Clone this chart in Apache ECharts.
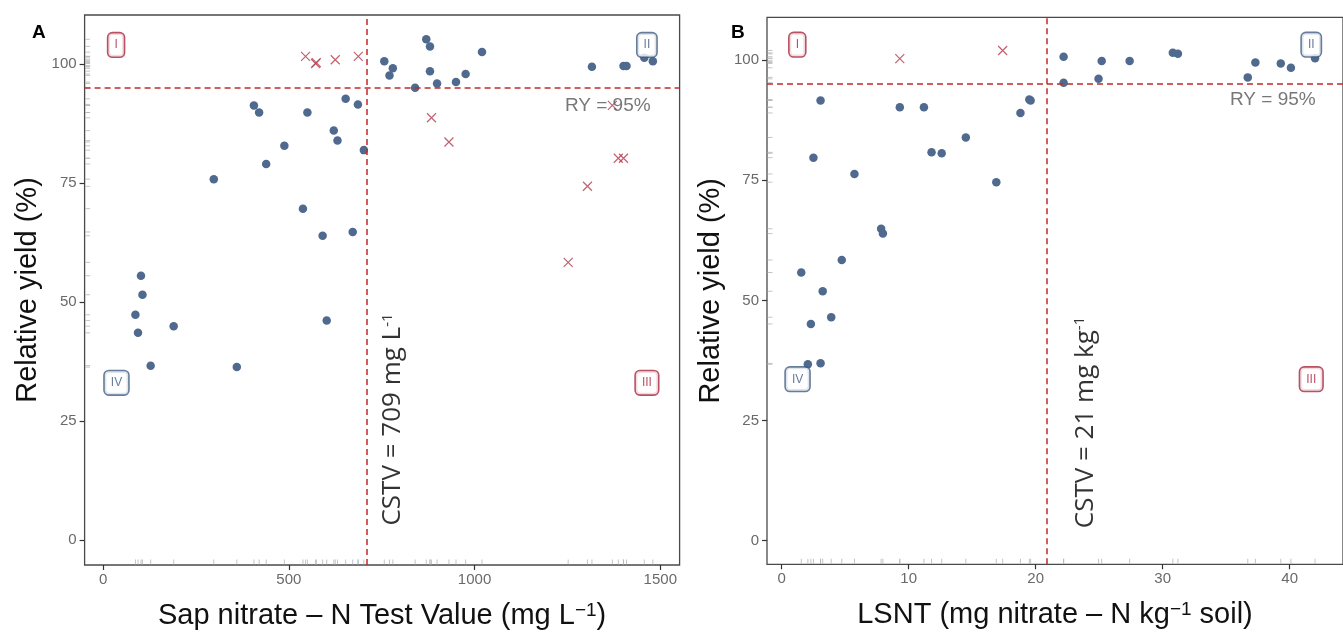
<!DOCTYPE html>
<html><head><meta charset="utf-8">
<script src="https://cdn.jsdelivr.net/npm/echarts@6/dist/echarts.min.js"></script>
<style>html,body{margin:0;padding:0;background:#fff;overflow:hidden}#c{width:1343px;height:635px}</style>
</head><body><div id="c"></div>
<script>
// Panel A: sap nitrate-N test value (mg/L) vs relative yield (%)
const sapX = [870, 880, 1020, 757, 780, 771, 880, 976, 950, 899, 840, 1316, 1401, 1409, 1457, 1480,
  406, 420, 550, 653, 686, 621, 631, 702, 488, 439, 298, 538, 591, 672, 102, 106, 87, 94, 190, 602, 128, 360];
const sapY = [105.2, 103.7, 102.5, 100.6, 99.1, 97.6, 98.5, 97.9, 96.2, 95.9, 95.0, 99.4, 99.6, 99.6, 101.3, 100.6,
  91.3, 89.8, 89.8, 92.7, 91.5, 86.0, 83.9, 81.9, 82.8, 79.0, 75.8, 69.6, 63.9, 64.7, 55.5, 51.5, 47.3, 43.5, 44.9, 46.1, 36.6, 36.3];
// Panel A off-diagonal (misclassified) observations
const sapOutX = [545, 572, 574, 625, 687, 884, 931, 1387, 1401, 1304, 1252, 1371];
const sapOutY = [101.6, 100.1, 100.3, 100.9, 101.6, 88.7, 83.6, 80.2, 80.2, 74.3, 58.3, 91.3];

// Panel B: LSNT (mg nitrate-N / kg soil) vs relative yield (%)
const lsntX = [22.2, 22.2, 25.2, 24.95, 27.4, 30.8, 31.2, 36.7, 37.3, 39.3, 40.1, 42.0,
  3.06, 9.3, 11.2, 19.5, 19.6, 18.8, 14.5, 11.8, 12.6, 2.5, 5.73, 16.9, 7.83, 7.97, 4.73, 1.54, 3.23, 3.9, 2.3, 2.06, 3.06];
const lsntY = [100.7, 95.3, 99.8, 96.1, 99.8, 101.5, 101.3, 96.4, 99.5, 99.3, 98.4, 100.4,
  91.6, 90.2, 90.2, 91.8, 91.6, 89.0, 83.9, 80.8, 80.6, 79.7, 76.3, 74.6, 64.9, 63.9, 58.4, 55.8, 51.9, 46.5, 45.1, 36.7, 36.9];
const lsntOutX = [9.3, 17.4];
const lsntOutY = [100.3, 102.0];

// Thresholds and tick labels
const RY = 95;
const cstvA = 709;
const cstvB = 20.9;
const yTicks = [0, 25, 50, 75, 100];
const sapTicks = [0, 500, 1000, 1500];
const lsntTicks = [0, 10, 20, 30, 40];
const quadrants = ['I', 'II', 'III', 'IV'];

const BLUE = '#4f6a8e', RED = '#b23a4c', DASH = '#c22a2a';
const QRED = '#a8263e', QBLUE = '#3f5b82';
const FONT = "'Liberation Sans', Arial, sans-serif";
const CFONT = "'Open Sans', sans-serif";

const zip = (xs, ys) => xs.map((x, i) => [x, ys[i]]);
const xRange = [{min: -49.8, max: 1552}, {min: -1.157, max: 44.2}];
const yRange = [{min: -5.3, max: 110.3}, {min: -4.91, max: 108.9}];

function panelSeries(g, cx, cy, ox, oy, cstv, annot) {
  const xs = cx.concat(ox), ys = cy.concat(oy);
  const s = [];
  s.push({type: 'scatter', xAxisIndex: g, yAxisIndex: g, symbol: 'circle', symbolSize: 8.5,
    itemStyle: {color: BLUE, opacity: 1}, data: zip(cx, cy), z: 3, silent: true,
    markLine: {silent: true, symbol: ['none', 'none'], label: {show: false}, animation: false,
      lineStyle: {color: DASH, type: [6, 4], width: 1.5},
      data: [{yAxis: RY}, {xAxis: cstv}]}});
  s.push({type: 'scatter', xAxisIndex: g, yAxisIndex: g, symbol: 'path://M0,0L10,10M0,10L10,0', symbolSize: 9,
    itemStyle: {color: 'none', borderColor: RED, borderWidth: 1.2}, data: zip(ox, oy), z: 3, silent: true});
  // rug marks
  s.push({type: 'scatter', xAxisIndex: g, yAxisIndex: g, symbol: 'rect', symbolSize: [1, 5], symbolOffset: [0, -3],
    itemStyle: {color: '#b5b5b5'}, data: xs.map(x => [x, yRange[g].min]), z: 2, silent: true});
  s.push({type: 'scatter', xAxisIndex: g, yAxisIndex: g, symbol: 'rect', symbolSize: [5, 1], symbolOffset: [3, 0],
    itemStyle: {color: '#b5b5b5'}, data: ys.map(y => [xRange[g].min, y]), z: 2, silent: true});
  // quadrant labels
  const qc = [QRED, QBLUE, QRED, QBLUE];
  s.push({type: 'scatter', xAxisIndex: g, yAxisIndex: g, symbolSize: 0, z: 10, silent: true,
    data: annot.quad.map((p, i) => ({value: p, label: {formatter: quadrants[i], color: qc[i], borderColor: qc[i]}})),
    label: {show: true, position: 'inside', fontFamily: FONT, fontSize: 12, backgroundColor: '#fff',
      borderWidth: 1.6, borderRadius: 4, padding: [6, 6, 5, 6]}});
  // RY text
  s.push({type: 'scatter', xAxisIndex: g, yAxisIndex: g, symbolSize: 0, z: 9, silent: true,
    data: [annot.ry],
    label: {show: true, position: 'left', distance: 0, formatter: 'RY = 95%', color: '#555',
      fontFamily: FONT, fontSize: 19}});
  // CSTV text
  s.push({type: 'scatter', xAxisIndex: g, yAxisIndex: g, symbolSize: 0, z: 9, silent: true,
    data: [annot.cstv],
    label: {show: true, position: [0, 0], rotate: 90, align: 'left', verticalAlign: 'middle',
      formatter: annot.cstvText, color: '#000', fontFamily: CFONT, fontSize: 26,
      rich: {sup: {fontSize: 15, verticalAlign: 'top', lineHeight: 15, fontFamily: CFONT, color: '#000'}}}});
  return s;
}

const series = [].concat(
  panelSeries(0, sapX, sapY, sapOutX, sapOutY, cstvA, {
    quad: [[35, 104], [1464, 104], [1464, 33], [36, 33]],
    ry: [1474, 91.3], cstv: [780, 3.0], cstvText: 'CSTV = 709 mg L{sup|-1}'}),
  panelSeries(1, lsntX, lsntY, lsntOutX, lsntOutY, cstvB, {
    quad: [[1.23, 103.2], [41.7, 103.2], [41.7, 33.6], [1.25, 33.6]],
    ry: [42.05, 91.8], cstv: [23.9, 2.6], cstvText: 'CSTV = 21 mg kg{sup|-1}'})
);

function xAxis(g, ticks, name) {
  return {type: 'value', gridIndex: g, min: xRange[g].min, max: xRange[g].max,
    axisLine: {show: false, onZero: false}, splitLine: {show: false},
    axisTick: {show: true, customValues: ticks, length: 5, lineStyle: {color: '#333', width: 1.2}},
    axisLabel: {customValues: ticks, formatter: v => String(v), color: '#6a6a6a', fontSize: 15, fontFamily: FONT, margin: 7},
    name: name, nameLocation: 'middle', nameGap: 36,
    nameTextStyle: {fontSize: 29, fontFamily: FONT, color: '#111',
      rich: {sup: {fontSize: 19, verticalAlign: 'top', lineHeight: 16, fontFamily: FONT, color: '#111'}}}};
}
function yAxis(g) {
  return {type: 'value', gridIndex: g, min: yRange[g].min, max: yRange[g].max,
    axisLine: {show: false, onZero: false}, splitLine: {show: false},
    axisTick: {show: true, customValues: yTicks, length: 5, lineStyle: {color: '#333', width: 1.2}},
    axisLabel: {customValues: yTicks, formatter: v => String(v), color: '#6a6a6a', fontSize: 15, fontFamily: FONT, margin: 8},
    name: 'Relative yield (%)', nameLocation: 'middle', nameGap: 42,
    nameTextStyle: {fontSize: 29, fontFamily: FONT, color: '#111'}};
}

const chart = echarts.init(document.getElementById('c'), null, {renderer: 'canvas'});
chart.setOption({
  animation: false,
  backgroundColor: '#fff',
  grid: [
    {left: 84.6, top: 15, width: 595, height: 550.7, show: true, borderColor: '#4a4a4a', borderWidth: 1.3, backgroundColor: 'transparent'},
    {left: 767, top: 17.3, width: 588, height: 547, show: true, borderColor: '#4a4a4a', borderWidth: 1.3, backgroundColor: 'transparent'}
  ],
  xAxis: [xAxis(0, sapTicks, 'Sap nitrate \u2013 N Test Value (mg L{sup|\u22121})'),
          xAxis(1, lsntTicks, 'LSNT (mg nitrate \u2013 N kg{sup|\u22121} soil)')],
  yAxis: [yAxis(0), yAxis(1)],
  graphic: [
    {type: 'text', left: 32, top: 23, style: {text: 'A', font: "bold 19px 'Liberation Sans', Arial", fill: '#000'}},
    {type: 'text', left: 731, top: 23, style: {text: 'B', font: "bold 19px 'Liberation Sans', Arial", fill: '#000'}}
  ],
  series: series
});
</script></body></html>
